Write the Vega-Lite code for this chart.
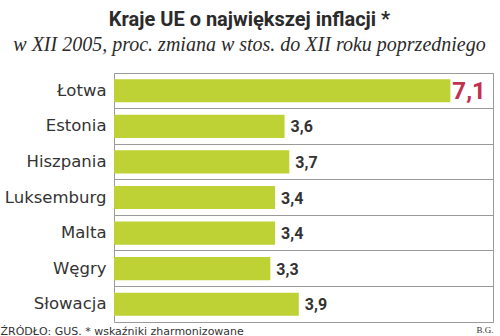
{
  "$schema": "https://vega.github.io/schema/vega-lite/v6.json",
  "width": 379,
  "height": 249,
  "autosize": "none",
  "padding": {"left": 114, "top": 73, "right": 7, "bottom": 14},
  "background": "white",
  "config": {
    "locale": {"number": {"decimal": ",", "thousands": " ", "grouping": [3], "currency": ["", " zł"]}},
    "view": {"stroke": "#9a9a9a", "strokeWidth": 1}
  },
  "title": {
    "text": "Kraje UE o największej inflacji *",
    "subtitle": "w XII 2005, proc. zmiana w stos. do XII roku poprzedniego",
    "anchor": "middle",
    "frame": "group",
    "dx": -54,
    "offset": 18,
    "font": "'Liberation Sans Narrow', Roboto",
    "fontSize": 20,
    "fontWeight": "bold",
    "color": "#2b2b2b",
    "subtitleFont": "Liberation Serif",
    "subtitleFontSize": 20,
    "subtitleFontStyle": "italic",
    "subtitleColor": "#2b2b2b",
    "subtitlePadding": 5
  },
  "data": {
    "values": [
      {"kraj": "Łotwa", "inflacja": 7.1},
      {"kraj": "Estonia", "inflacja": 3.6},
      {"kraj": "Hiszpania", "inflacja": 3.7},
      {"kraj": "Luksemburg", "inflacja": 3.4},
      {"kraj": "Malta", "inflacja": 3.4},
      {"kraj": "Węgry", "inflacja": 3.3},
      {"kraj": "Słowacja", "inflacja": 3.9}
    ]
  },
  "encoding": {
    "y": {
      "field": "kraj",
      "type": "nominal",
      "sort": null,
      "scale": {"paddingInner": 0, "paddingOuter": 0},
      "axis": {
        "title": "ŹRÓDŁO: GUS. * wskaźniki zharmonizowane",
        "titleAngle": 0,
        "titleAlign": "left",
        "titleBaseline": "alphabetic",
        "titleX": -114,
        "titleY": 261,
        "titleFont": "DejaVu Sans",
        "titleFontSize": 11,
        "titleFontWeight": "normal",
        "titleColor": "#333333",
        "grid": true,
        "bandPosition": 0,
        "gridColor": "#9a9a9a",
        "gridWidth": 1,
        "ticks": false,
        "domain": false,
        "labelPadding": 8,
        "labelFont": "DejaVu Sans",
        "labelFontSize": 16.5,
        "labelColor": "#333333"
      }
    },
    "x": {
      "field": "inflacja",
      "type": "quantitative",
      "scale": {"domain": [0, 8], "nice": false},
      "axis": {
        "title": "B.G.",
        "titleAnchor": "end",
        "titleFont": "Liberation Serif",
        "titleFontSize": 9,
        "titleFontWeight": "normal",
        "titleColor": "#333333",
        "titlePadding": 3,
        "labels": false,
        "ticks": false,
        "domain": false,
        "grid": false
      }
    }
  },
  "layer": [
    {
      "mark": {"type": "bar", "color": "#bfd235", "height": {"band": 0.65}}
    },
    {
      "transform": [{"filter": "datum.kraj !== 'Łotwa'"}],
      "mark": {"type": "text", "align": "left", "baseline": "middle", "dx": 6, "dy": 1, "font": "Roboto", "fontWeight": "bold", "fontSize": 16, "color": "#333333"},
      "encoding": {"text": {"field": "inflacja", "type": "quantitative", "format": ".1f"}}
    },
    {
      "transform": [{"filter": "datum.kraj === 'Łotwa'"}],
      "mark": {"type": "text", "align": "left", "baseline": "middle", "dx": 2, "dy": 1, "font": "Roboto", "fontWeight": "bold", "fontSize": 24, "color": "#c2304f"},
      "encoding": {"text": {"field": "inflacja", "type": "quantitative", "format": ".1f"}}
    }
  ]
}
